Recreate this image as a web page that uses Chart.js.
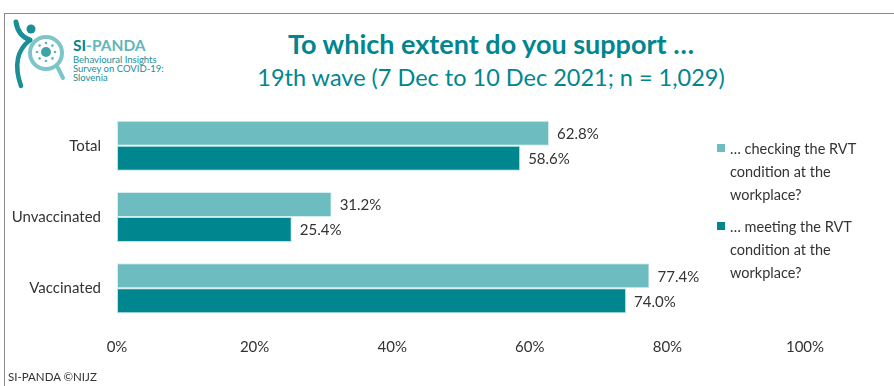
<!DOCTYPE html>
<html>
<head>
<meta charset="utf-8">
<script src="https://cdn.jsdelivr.net/npm/chart.js@4"></script>
<style>
  html, body { margin: 0; padding: 0; background: #fff; }
  #wrap { position: relative; width: 894px; height: 386px; overflow: hidden; font-family: Lato, "Open Sans", sans-serif; }
  #frame { position: absolute; left: 4px; top: 13px; width: 900px; height: 400px; border-left: 1.5px solid #8a8a8a; border-top: 1.5px solid #8a8a8a; }
  #chart { position: absolute; left: 0; top: 0; }
  .title { position: absolute; left: 491px; transform: translateX(-50%); white-space: nowrap; color: #00868f; }
  #t1 { top: 27px; font-size: 27px; font-weight: bold; }
  #t2 { top: 63px; font-size: 23.5px; }
  #logo { position: absolute; left: 0; top: 10px; }
  #brand { position: absolute; left: 73px; top: 35px; color: #5fb6bb; }
  #brand b { font-size: 15.5px; }
  #brand b span { color: #00868f; }
  #brand div { font-size: 9.5px; line-height: 9px; color: #1b8e96; margin-top: 1px; }
  #legend { position: absolute; left: 717px; top: 137px; font-size: 14.5px; color: #333; line-height: 23px; }
  .item { position: relative; padding-left: 13px; margin-bottom: 9px; }
  .sw { position: absolute; left: 0; top: 7px; width: 8px; height: 8px; }
  #foot { position: absolute; left: 8px; top: 370px; font-size: 11.5px; color: #333; }
</style>
</head>
<body>
<div id="wrap">
  <div id="frame"></div>
  <svg id="logo" width="75" height="80" viewBox="0 10 75 80">
    <path d="M16 22 Q18 36 30 40" stroke="#1b8e96" stroke-width="5" fill="none" stroke-linecap="round"/>
    <circle cx="31" cy="29" r="4.5" fill="#1b8e96"/>
    <path d="M30 40 C17 50 14 66 21 86" stroke="#1b8e96" stroke-width="4.5" fill="none" stroke-linecap="round"/>
    <circle cx="46" cy="53" r="16" stroke="#7cc5c8" stroke-width="4" fill="#fff"/>
    <path d="M57 66 L63 78" stroke="#7cc5c8" stroke-width="4" stroke-linecap="round"/>
    <circle cx="46" cy="52" r="5" fill="#3ea4aa"/>
    <g fill="#5fb6bb">
      <circle cx="46" cy="43" r="1.3"/><circle cx="46" cy="61" r="1.3"/>
      <circle cx="37" cy="52" r="1.3"/><circle cx="55" cy="52" r="1.3"/>
      <circle cx="39.6" cy="45.6" r="1.3"/><circle cx="52.4" cy="45.6" r="1.3"/>
      <circle cx="39.6" cy="58.4" r="1.3"/><circle cx="52.4" cy="58.4" r="1.3"/>
    </g>
  </svg>
  <div id="brand">
    <b><span>SI</span>-PANDA</b>
    <div>Behavioural Insights<br>Survey on COVID-19:<br>Slovenia</div>
  </div>
  <div class="title" id="t1">To which extent do you support …</div>
  <div class="title" id="t2">19th wave (7 Dec to 10 Dec 2021; n = 1,029)</div>
  <canvas id="chart" width="894" height="386"></canvas>
  <div id="legend"></div>
  <div id="foot">SI-PANDA ©NIJZ</div>
</div>
<script>
var groups = ['Total', 'Unvaccinated', 'Vaccinated'];
var seriesNames = ['… checking the RVT condition at the workplace?', '… meeting the RVT condition at the workplace?'];
var checking = [62.8, 31.2, 77.4];
var meeting = [58.6, 25.4, 74.0];
var colors = ['#6dbcbf', '#00868f'];
var legendLines = [['… checking the RVT', 'condition at the', 'workplace?'], ['… meeting the RVT', 'condition at the', 'workplace?']];

// value labels to the right of each bar
var valueLabels = {
  id: 'valueLabels',
  afterDatasetsDraw: function(chart) {
    var ctx = chart.ctx;
    ctx.save();
    ctx.font = '15px Lato, "Open Sans", sans-serif';
    ctx.fillStyle = '#333';
    ctx.textBaseline = 'middle';
    chart.data.datasets.forEach(function(ds, i) {
      chart.getDatasetMeta(i).data.forEach(function(bar, j) {
        ctx.fillText(ds.data[j].toFixed(1) + '%', bar.x + 8, bar.y + 1);
      });
    });
    ctx.restore();
  }
};

var ctx = document.getElementById('chart').getContext('2d');
var chart = new Chart(ctx, {
  type: 'bar',
  data: {
    labels: groups,
    datasets: [
      { label: seriesNames[0], data: checking, backgroundColor: colors[0], borderColor: '#d6eeef', borderWidth: 1, borderSkipped: false },
      { label: seriesNames[1], data: meeting, backgroundColor: colors[1], borderColor: '#bfe3e5', borderWidth: 1, borderSkipped: false }
    ]
  },
  options: {
    indexAxis: 'y',
    responsive: false,
    animation: false,
    layout: { padding: { top: 110, right: 89, bottom: 0, left: 0 } },
    datasets: { bar: { categoryPercentage: 0.7, barPercentage: 1.0 } },
    plugins: { legend: { display: false }, tooltip: { enabled: false } },
    scales: {
      x: {
        min: 0, max: 100,
        ticks: { stepSize: 20, padding: 14, color: '#333', font: { size: 15, family: 'Lato' }, callback: function(v) { return v + '%'; } },
        grid: { display: false, drawTicks: false },
        border: { display: false },
        afterFit: function(s) { s.height = 62; }
      },
      y: {
        ticks: { padding: 16, color: '#333', font: { size: 15, family: 'Lato' } },
        grid: { display: false, drawTicks: false },
        border: { display: false },
        afterFit: function(s) { s.width = 117; }
      }
    }
  },
  plugins: [valueLabels]
});

var legend = document.getElementById('legend');
legendLines.forEach(function(lines, i) {
  var item = document.createElement('div');
  item.className = 'item';
  item.innerHTML = '<span class="sw" style="background:' + colors[i] + '"></span>' + lines.join('<br>');
  legend.appendChild(item);
});
</script>
</body>
</html>
